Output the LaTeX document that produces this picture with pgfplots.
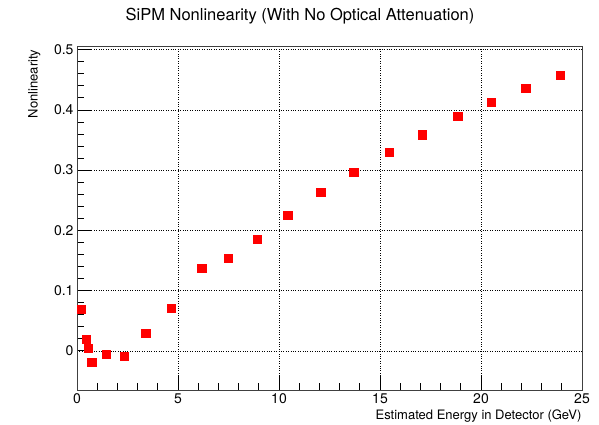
\documentclass[border=0pt]{standalone}
\usepackage{fontspec}
\setmainfont{TeX Gyre Heros}
\usepackage{pgfplots}
\pgfplotsset{compat=1.18}
\begin{document}
\begin{tikzpicture}[x=1pt,y=1pt]
\useasboundingbox (0,0) rectangle (599,424);
\node[anchor=base] at (300,403) {\fontsize{16.5}{18}\selectfont SiPM Nonlinearity (With No Optical Attenuation)};
\begin{axis}[
  at={(77pt,34pt)}, anchor=south west,
  width=505pt, height=344pt, scale only axis,
  xmin=0, xmax=25, ymin=-0.065, ymax=0.506,
  xtick={0,5,...,25}, ytick={0,0.1,...,0.5},
  yticklabels={0,0.1,0.2,0.3,0.4,0.5},
  minor x tick num=4, minor y tick num=4,
  tick align=inside, tickpos=left,
  major tick length=14pt, minor tick length=7pt,
  grid=major, major grid style={black, dotted, line width=0.6pt},
  axis line style={line width=1pt, black!75},
  every tick/.style={black, line width=0.7pt},
  ticklabel style={font=\fontsize{14}{16}\selectfont},
  /pgf/number format/assume math mode=true,
  xlabel={Estimated Energy in Detector (GeV)},
  ylabel={Nonlinearity},
  label style={font=\fontsize{13}{15}\selectfont},
  xlabel style={at={(axis description cs:1,0)}, anchor=north east, yshift=-16pt, xshift=3pt},
  ylabel style={at={(axis description cs:0,1)}, anchor=south east, rotate=0, yshift=33pt},
  clip=false,
]
\addplot[only marks, mark=square*, mark size=4.1pt, color=red, mark options={line width=0.3pt}] coordinates {
(0.22,0.0697) (0.45,0.0194) (0.55,0.005) (0.73,-0.019) (1.44,-0.0055)
(2.33,-0.0088) (3.40,0.0288) (4.65,0.0708) (6.17,0.137) (7.47,0.154)
(8.90,0.185) (10.43,0.225) (12.06,0.263) (13.70,0.296) (15.44,0.330)
(17.10,0.359) (18.84,0.389) (20.51,0.413) (22.21,0.436) (23.93,0.458)
};
\end{axis}
\end{tikzpicture}
\end{document}
